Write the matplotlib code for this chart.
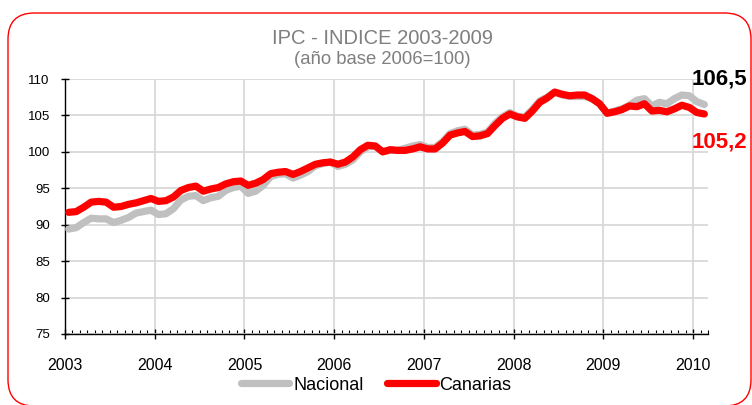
import matplotlib
matplotlib.use("Agg")
import matplotlib.pyplot as plt
from matplotlib.patches import FancyBboxPatch
from matplotlib.ticker import MultipleLocator, FixedLocator, FixedFormatter
import numpy as np

plt.rcParams['font.family'] = ['Liberation Sans', 'DejaVu Sans']

years = ["2003", "2004", "2005", "2006", "2007", "2008", "2009", "2010"]

# Monthly values Jan 2003 .. Feb 2010
nacional = [
    89.4, 89.6, 90.3, 90.9, 90.8, 90.8, 90.3, 90.6, 91.0, 91.6, 91.8, 92.0,
    91.4, 91.5, 92.2, 93.4, 93.9, 94.0, 93.3, 93.7, 93.9, 94.7, 95.1, 95.3,
    94.3, 94.6, 95.4, 96.6, 96.9, 97.0, 96.4, 96.8, 97.3, 98.1, 98.4, 98.6,
    98.0, 98.3, 98.9, 100.0, 100.7, 100.8, 100.0, 100.2, 100.2, 100.5, 100.8, 101.0,
    100.6, 100.6, 101.4, 102.5, 102.9, 103.1, 102.3, 102.4, 102.7, 103.9, 104.8, 105.4,
    104.9, 104.8, 105.8, 107.0, 107.5, 108.2, 107.8, 107.6, 107.6, 107.6, 107.3, 106.6,
    105.3, 105.6, 105.9, 106.4, 107.1, 107.3, 106.3, 106.8, 106.6, 107.3, 107.8, 107.7,
    106.9, 106.5,
]
canarias = [
    91.7, 91.8, 92.4, 93.1, 93.2, 93.1, 92.4, 92.5, 92.8, 93.0, 93.3, 93.6,
    93.2, 93.3, 93.8, 94.7, 95.1, 95.3, 94.6, 94.9, 95.1, 95.6, 95.9, 96.0,
    95.4, 95.7, 96.2, 97.0, 97.2, 97.3, 96.9, 97.3, 97.8, 98.3, 98.5, 98.6,
    98.3, 98.6, 99.3, 100.3, 100.9, 100.8, 100.0, 100.3, 100.2, 100.2, 100.4, 100.7,
    100.4, 100.4, 101.2, 102.3, 102.6, 102.8, 102.1, 102.2, 102.5, 103.6, 104.6, 105.2,
    104.8, 104.6, 105.6, 106.8, 107.4, 108.2, 107.9, 107.7, 107.8, 107.8, 107.3, 106.6,
    105.3, 105.5, 105.8, 106.3, 106.2, 106.6, 105.6, 105.7, 105.5, 105.9, 106.4, 106.1,
    105.4, 105.2,
]

n = len(nacional)
xpos = np.arange(n) + 0.5

fig = plt.figure(figsize=(7.52, 4.05), dpi=100)

# rounded red frame
frame = FancyBboxPatch((8 / 752, -1 / 405), 743 / 752, 393 / 405,
                       boxstyle="round,pad=0,rounding_size=0.035",
                       transform=fig.transFigure, facecolor="white",
                       edgecolor="#ff0000", linewidth=1.0, zorder=-1,
                       mutation_aspect=752 / 405)
fig.patches.append(frame)

ax = fig.add_axes([65 / 752, (405 - 334) / 405, (708 - 65) / 752, 255 / 405])
ax.set_facecolor("none")

ax.plot(xpos, nacional, color="#c0c0c0", lw=5.2, solid_capstyle="round",
        solid_joinstyle="round", label="Nacional", zorder=3)
ax.plot(xpos, canarias, color="#ff0000", lw=5.2, solid_capstyle="round",
        solid_joinstyle="round", label="Canarias", zorder=4)

ax.set_xlim(0, n)
ax.set_ylim(75, 110)
ax.yaxis.set_major_locator(MultipleLocator(5))
ax.xaxis.set_major_locator(FixedLocator(np.arange(len(years)) * 12))
ax.xaxis.set_major_formatter(FixedFormatter(years))
ax.xaxis.set_minor_locator(FixedLocator(np.arange(n + 1)))

ax.grid(True, which="major", color="#d9d9d9", lw=1.3, zorder=0)
ax.set_axisbelow(True)
for s in ["top", "right"]:
    ax.spines[s].set_visible(False)
for s in ["left", "bottom"]:
    ax.spines[s].set_color("black")
    ax.spines[s].set_linewidth(1.0)

ax.tick_params(axis="y", which="major", direction="inout", length=6, width=1,
               labelsize=9.5, pad=8, colors="black")
ax.tick_params(axis="x", which="major", direction="inout", length=7, width=1,
               labelsize=11.5, pad=14)
ax.tick_params(axis="x", which="minor", direction="in", length=3, width=0.8)

# end labels
ax.annotate(f"{nacional[-1]:.1f}".replace(".", ","), xy=(xpos[-1], nacional[-1]),
            xytext=(11, 18), textcoords="offset points", ha="center", va="center",
            fontsize=16, fontweight="bold", color="black", annotation_clip=False)
ax.annotate(f"{canarias[-1]:.1f}".replace(".", ","), xy=(xpos[-1], canarias[-1]),
            xytext=(11, -20), textcoords="offset points", ha="center", va="center",
            fontsize=16, fontweight="bold", color="#ff0000", annotation_clip=False)

fig.text(382 / 752, 1 - 38 / 405, "IPC - INDICE 2003-2009", ha="center", va="center",
         fontsize=14.5, color="#7f7f7f")
fig.text(382 / 752, 1 - 60 / 405, "(año base 2006=100)", ha="center", va="center",
         fontsize=13.3, color="#7f7f7f")

fig.legend(loc="center", bbox_to_anchor=(376 / 752, 20 / 405), ncol=2, frameon=False,
           fontsize=13, handlelength=2.7, handletextpad=0.2, columnspacing=1.3,
           borderaxespad=0)

fig.savefig("out.png", dpi=100)
